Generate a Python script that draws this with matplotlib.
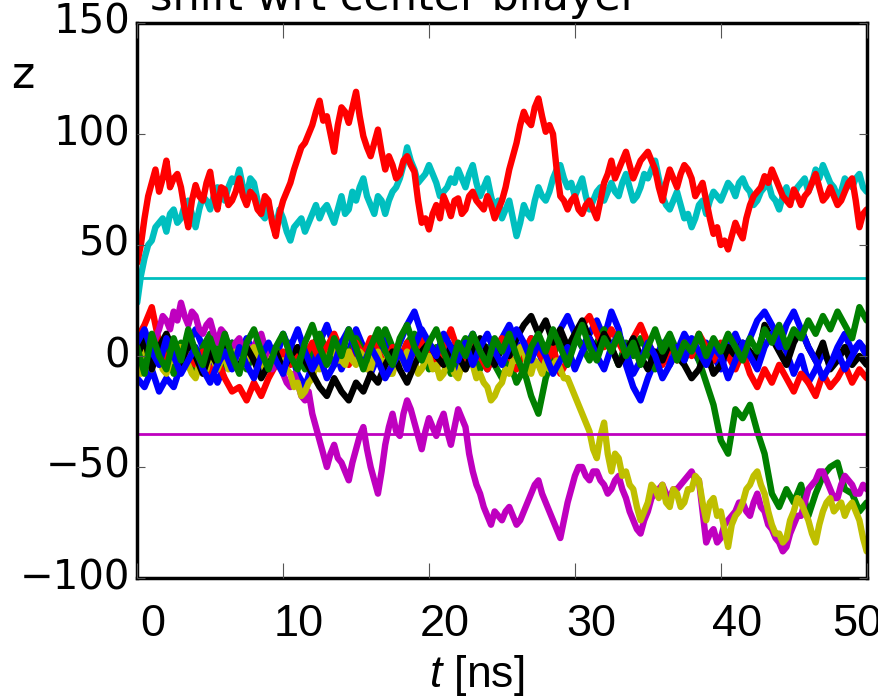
import matplotlib
matplotlib.use("Agg")
import matplotlib.pyplot as plt
import matplotlib.transforms as mtransforms
import numpy as np

t_c = np.arange(0, 50.01, 0.5)     # 0.5 ns sampling
t_f = np.arange(0, 50.001, 0.25)   # 0.25 ns sampling

b1 = [-10, -14, -6, -16, -10, -14, -4, 6, 12, 4, -4, -12, -4, 6, 0, 8, 2, -6, 4, -2,
      10, 2, -8, -14, -4, 6, 14, 4, -6, 2, 12, 4, -8, 0, 8, -2, 6, 14, 20, 10,
      2, -4, 6, 0, -8, 4, 10, 0, -6, 2, 8, 14, 6, 0, 8, 2, -6, 4, 12, 18,
      10, 4, 10, 16, 8, 20, 12, -4, -14, -20, -10, -2, 6, -4, 2, 10, 4, -2, 6, 0,
      -6, 4, 10, 2, 8, 16, 20, 14, 8, 2, -8, 0, -12, -6, 2, -4, 4, 10, 2, 6, 0]
g1 = [2, -6, 8, -2, 4, -8, 6, 0, -6, 4, 10, 2, -4, 6, 0, -6, 2, 8, -2, 4,
      -4, 6, 0, -6, 4, 10, 2, -4, 6, 0, 8, 2, -4, 6, 12, 4, -2, 6, 10, 2,
      -6, 4, 0, -8, 2, 8, 0, -6, 4, -4, -10, -2, -12, -6, -18, -26, -10, 0, 8, 2,
      10, 4, -2, 6, 12, 4, -4, 6, 0, 8, 2, -6, 4, 10, 2, -2, 6, -2, -12, -22,
      -38, -44, -24, -28, -22, -34, -44, -62, -68, -60, -66, -58, -72, -62, -54, -50, -48, -60, -62, -70, -66]
r1 = [8, 14, 22, 6, -2, 4, -6, 0, -4, 2, -8, -2, -10, -16, -14, -20, -12, -18, -10, -4,
      2, -4, 4, 0, 6, -2, 4, 10, 2, -4, 6, 0, 8, 2, -4, 4, -2, 6, 0, 8,
      2, -6, 4, 12, 2, -4, 6, 0, -6, 2, 8, 0, -6, 2, 8, 2, -4, 4, -8, -2,
      8, 14, 18, 10, 4, 12, 6, 0, 8, 14, 6, 0, -4, 4, -2, 6, 0, 10, 4, -2,
      6, 0, -6, 2, -8, -14, -6, -12, -4, -10, -16, -8, -12, -18, -8, -14, -10, -4, -12, -6, -10]
c1 = [24, 36, 44, 50, 52, 58, 60, 62, 56, 64, 66, 60, 62, 68, 70, 64, 58, 66, 72, 70,
      66, 72, 76, 74, 70, 76, 80, 78, 84, 76, 72, 80, 78, 70, 64, 62, 68, 62, 58,
      66, 62, 56, 52, 58, 60, 62, 56, 60, 64, 68, 62, 66, 68, 64, 60, 66, 72, 64, 66,
      74, 70, 76, 80, 72, 68, 64, 72, 70, 64, 70, 74, 76, 80, 86, 94, 88, 84, 78, 80,
      82, 86, 82, 78, 72, 74, 76, 80, 78, 84, 80, 76, 82, 86, 78, 72, 76, 80, 72, 66,
      70, 62, 66, 70, 62, 54, 60, 68, 64, 62, 70, 76, 72, 70, 74, 80, 84, 86, 80, 76,
      78, 72, 76, 80, 72, 66, 70, 74, 76, 70, 74, 78, 74, 72, 78, 82, 76, 70, 72, 76,
      82, 80, 84, 88, 80, 72, 68, 66, 70, 74, 68, 62, 64, 58, 62, 68, 70, 64, 70, 74,
      72, 70, 74, 78, 76, 72, 78, 80, 76, 74, 68, 70, 74, 76, 78, 72, 70, 66, 72, 76,
      70, 72, 76, 78, 80, 74, 78, 84, 80, 86, 82, 78, 76, 72, 74, 80, 78, 76, 80, 82,
      76, 74]
m1 = [5, 0, 10, 6, 2, 8, 12, 18, 16, 12, 20, 16, 24, 18, 14, 20, 18, 12, 10, 14,
      16, 10, 6, 12, 10, 4, 2, 6, 8, 2, -2, 4, 4, 8, 10, 4, 0, -6, -4,
      -2, -8, -12, -14, -8, -12, -18, -20, -16, -26, -32, -38, -44, -50, -44, -40, -46, -48, -52, -56,
      -48, -42, -36, -32, -42, -50, -56, -62, -52, -40, -32, -26, -34, -36, -26, -20, -24, -30, -36, -42,
      -34, -28, -32, -36, -30, -26, -34, -40, -32, -24, -28, -32, -44, -52, -58, -62, -68, -72, -76, -70,
      -72, -74, -70, -68, -72, -76, -74, -70, -66, -62, -58, -56, -62, -66, -70, -74, -78, -82, -74, -66,
      -60, -54, -50, -50, -54, -56, -52, -52, -56, -58, -62, -60, -56, -54, -60, -64, -70, -74, -78, -80,
      -74, -70, -64, -62, -60, -58, -62, -64, -60, -60, -58, -56, -54, -52, -56, -56, -70, -84, -80, -78,
      -84, -82, -76, -74, -72, -70, -66, -66, -70, -72, -66, -62, -68, -70, -76, -78, -82, -84, -88, -86,
      -80, -76, -72, -72, -66, -60, -58, -56, -52, -52, -56, -60, -64, -64, -58, -54, -56, -58, -62, -62,
      -58, -60]
y1 = [-4, -8, 2, -2, -6, 2, 0, -6, -8, -2, -2, 4, 4, -2, -4, -8, -10, -4, -2, -6,
      2, -2, -6, -2, 0, -6, -4, 2, 2, -4, -2, 2, 4, -2, 0, -6, -4, 0, 2,
      -4, -2, -6, -8, -14, -12, -18, -16, -12, -10, -4, -6, -2, -2, 2, 4, -2, -2, -4, 2,
      -2, -4, 2, 0, -6, -6, 0, 2, -4, -2, -8, -8, -2, -4, -2, 2, -2, -2, -8, -6,
      -2, 0, -6, -4, -10, -8, -2, -4, -8, -10, -4, -6, -2, -4, -10, -8, -12, -14, -20, -18,
      -14, -12, -6, -8, -2, -2, 4, 2, -4, -8, -2, -4, -8, -2, -6, -4, -2, -6, -10, -10,
      -14, -18, -22, -26, -30, -34, -42, -46, -36, -30, -44, -52, -44, -46, -54, -52, -58, -60, -68, -74,
      -70, -66, -58, -60, -64, -58, -66, -68, -60, -62, -68, -66, -60, -60, -54, -56, -66, -74, -66, -64,
      -72, -70, -78, -86, -76, -72, -70, -66, -60, -58, -54, -52, -58, -62, -70, -76, -80, -80, -84, -82,
      -74, -70, -64, -66, -70, -74, -80, -84, -76, -70, -66, -64, -70, -68, -66, -72, -68, -66, -70, -74,
      -82, -88]
k1 = [0, 8, -6, 4, 10, 2, -4, 6, 0, -8, 2, -4, 6, 0, -6, 4, -2, -10, -4, 2,
      -6, 0, 4, -2, -8, -14, -18, -10, -16, -20, -12, -16, -8, -12, -4, 2, -6, -12, -4, 2,
      6, 0, -4, 4, 0, -6, 2, 8, 2, -4, 4, 0, 8, 14, 18, 10, 16, 6, 12, 4,
      10, 16, 8, 2, 10, 4, -4, 2, 8, 0, -6, 2, -2, 6, 0, -4, -10, -6, 2, -8,
      -4, 4, 0, 6, 2, -2, 14, 8, 2, -4, 6, 12, 4, -2, 6, -6, -2, 4, -4, 0, -4]
b2 = [6, 12, 2, -4, 8, 0, -8, -2, 4, -6, -12, -4, 2, -6, 4, -4, -10, 0, 6, -2,
      -8, 4, 12, 2, -6, 0, -10, -4, 6, 12, 2, -4, 4, -2, -10, -4, 2, -6, 4, 12,
      6, 0, 10, 4, -2, 6, -4, 4, 10, 2, -4, 4, 12, 6, -2, 6, 0, -8, -2, 4,
      -6, 2, 8, 0, -6, 4, 10, 2, -8, -2, 6, 0, -10, -4, 4, -2, 8, 2, -4, 4,
      0, -10, -2, 6, 0, -6, 4, 10, 4, 14, 20, 12, 4, -2, -10, -4, 2, -6, 0, 6, 2]
g2 = [4, -8, 10, 0, -6, 8, -2, 12, 2, -4, 8, -2, 10, 0, -8, 6, 12, 2, -6, 4,
      10, 0, -6, 6, 14, 4, -4, 8, 0, 12, 4, -6, 4, 12, 2, -4, 8, 14, 4, -2,
      6, 12, 2, -6, 6, 0, 10, 2, -4, 8, 2, 10, 0, -8, 4, 10, 2, 12, 4, -4,
      6, 14, 4, -2, 8, 2, 10, 0, 6, -4, 4, 12, 2, 8, -2, 6, 2, 10, 0, 8,
      2, 10, 4, -2, 8, 2, 12, 6, 14, 4, 12, 8, 16, 10, 18, 12, 20, 14, 8, 22, 16]
r2 = [42, 50, 62, 72, 78, 84, 74, 80, 88, 76, 80, 82, 76, 66, 58, 70, 77, 72, 70, 78,
      83, 72, 66, 76, 75, 68, 70, 74, 80, 72, 68, 74, 72, 66, 64, 72, 70, 60, 54,
      64, 70, 74, 78, 84, 89, 94, 96, 100, 104, 110, 115, 106, 108, 100, 92, 104, 112, 110, 105,
      112, 119, 108, 99, 94, 90, 96, 102, 92, 84, 90, 86, 80, 82, 88, 90, 86, 83, 70, 60,
      62, 57, 64, 68, 62, 72, 68, 63, 70, 71, 64, 66, 72, 74, 70, 68, 66, 72, 68, 62,
      66, 70, 76, 84, 90, 96, 104, 110, 106, 104, 112, 116, 108, 101, 104, 100, 84, 72, 70, 66,
      70, 72, 66, 64, 68, 70, 66, 62, 70, 78, 82, 88, 80, 84, 88, 92, 86, 80, 84, 88,
      90, 92, 88, 84, 76, 70, 78, 84, 80, 76, 82, 86, 84, 80, 72, 75, 78, 70, 62, 55,
      58, 50, 52, 48, 54, 60, 56, 53, 62, 68, 72, 74, 76, 81, 78, 84, 80, 76, 72, 70,
      68, 75, 72, 68, 72, 74, 78, 82, 76, 70, 72, 76, 72, 68, 70, 74, 78, 80, 70, 58,
      64, 66]

series = [b1, g1, r1, c1, m1, y1, k1, b2, g2, r2]
colors = ['b', 'g', 'r', 'c', 'm', 'y', 'k', 'b', 'g', 'r']
hline_values = [35, -35]
hline_colors = ['c', 'm']

xticks = [0, 10, 20, 30, 40, 50]
yticks = [-100, -50, 0, 50, 100, 150]
ytick_labels = ['\u2212100', '\u221250', '0', '50', '100', '150']

plt.style.use('classic')
plt.rcParams['mathtext.fontset'] = 'custom'
plt.rcParams['mathtext.it'] = 'Liberation Sans:italic'
plt.rcParams['mathtext.rm'] = 'Liberation Sans'

fig = plt.figure(figsize=(8.79, 6.99), dpi=100)
fig.patch.set_facecolor('white')
ax = fig.add_axes([137.2 / 879, 121 / 699, (866.7 - 137.2) / 879, (578 - 23) / 699])

for s, c in zip(series, colors):
    tt = t_f if len(s) == len(t_f) else t_c
    ax.plot(tt, s, color=c, lw=4.6, solid_joinstyle='round', solid_capstyle='round')
for v, c in zip(hline_values, hline_colors):
    ax.axhline(v, color=c, lw=2)

ax.set_xlim(0, 50)
ax.set_ylim(-100, 150)
ax.set_xticks(xticks)
ax.set_yticks(yticks)
ax.set_yticklabels(ytick_labels, fontsize=29, family='DejaVu Sans')
ax.set_xticklabels([str(v) for v in xticks], fontsize=32.5, family='Liberation Sans')
for sp in ax.spines.values():
    sp.set_linewidth(2.5)
ax.tick_params(axis='x', which='major', direction='in', length=11, width=0.8, pad=19,
               top=True, bottom=True, colors='#555555', labelcolor='black')
ax.tick_params(axis='y', which='major', direction='in', length=6, width=0.8, pad=5,
               left=True, right=True, colors='#555555', labelcolor='black')
xlabels = ax.get_xticklabels()
for i, lab in enumerate(xlabels):
    dx = 16 if i < len(xlabels) - 1 else -9
    off = mtransforms.ScaledTranslation(dx / 100, 0, fig.dpi_scale_trans)
    lab.set_transform(lab.get_transform() + off)

fig.text(477 / 879, 1 - 675 / 699, r'$t$ [ns]', fontsize=32, family='Liberation Sans',
         ha='center', va='center')
fig.text(23 / 879, 1 - 75 / 699, 'z', fontsize=32, family='DejaVu Sans', ha='center', va='center')
fig.text(150 / 879, 1 - 10 / 699, 'shift wrt center bilayer', fontsize=31, family='DejaVu Sans',
         ha='left', va='baseline')

fig.savefig('out.png', dpi=100, facecolor='white')
